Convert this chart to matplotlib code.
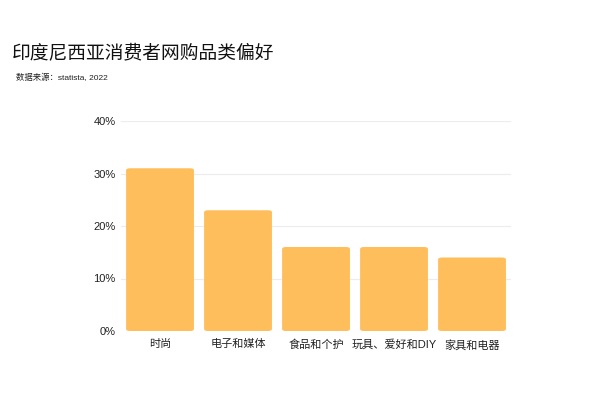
import matplotlib
matplotlib.use("Agg")
import matplotlib.pyplot as plt
from matplotlib.patches import FancyBboxPatch
from matplotlib.ticker import FuncFormatter

# Latin text in an Arial-like face, CJK falls through to Noto
plt.rcParams['font.family'] = ['Liberation Sans', 'Noto Sans CJK SC', 'DejaVu Sans']

categories = ["时尚", "电子和媒体", "食品和个护", "玩具、爱好和DIY", "家具和电器"]
shares = [31, 23, 16, 16, 14]
yticks = [0, 10, 20, 30, 40]

bar_color = "#FFBE5C"

fig = plt.figure(figsize=(6, 4), dpi=100)
ax = fig.add_axes([0.2017, 0.1725, 0.65, 0.525])

bars = ax.bar(range(len(categories)), shares, width=0.87, color=bar_color, zorder=2)

# swap plain bars for slightly rounded ones
for b in bars:
    x, y = b.get_x(), b.get_y()
    w, h = b.get_width(), b.get_height()
    b.remove()
    p = FancyBboxPatch((x, y), w, h, boxstyle="round,pad=0,rounding_size=0.05",
                       mutation_aspect=8, facecolor=bar_color, edgecolor="none", zorder=2)
    ax.add_patch(p)

ax.set_xlim(-0.5, len(categories) - 0.5)
ax.set_ylim(0, 40)
ax.set_yticks(yticks)
ax.yaxis.set_major_formatter(FuncFormatter(lambda v, _: f"{v:.0f}%"))
ax.set_xticks(range(len(categories)))
ax.set_xticklabels(categories)
ax.grid(axis="y", color="#ececec", linewidth=0.8, zorder=0)
for s in ax.spines.values():
    s.set_visible(False)
ax.tick_params(axis="both", length=0, labelsize=8, colors="#222222")
ax.tick_params(axis="y", pad=4)
ax.tick_params(axis="x", pad=6)

fig.text(0.02, 0.868, "印度尼西亚消费者网购品类偏好", fontsize=13.5, color="#111111",
         va="center", weight="medium")
fig.text(0.026, 0.805, "数据来源：statista, 2022", fontsize=6, color="#222222", va="center")

fig.savefig("out.png", dpi=100)
